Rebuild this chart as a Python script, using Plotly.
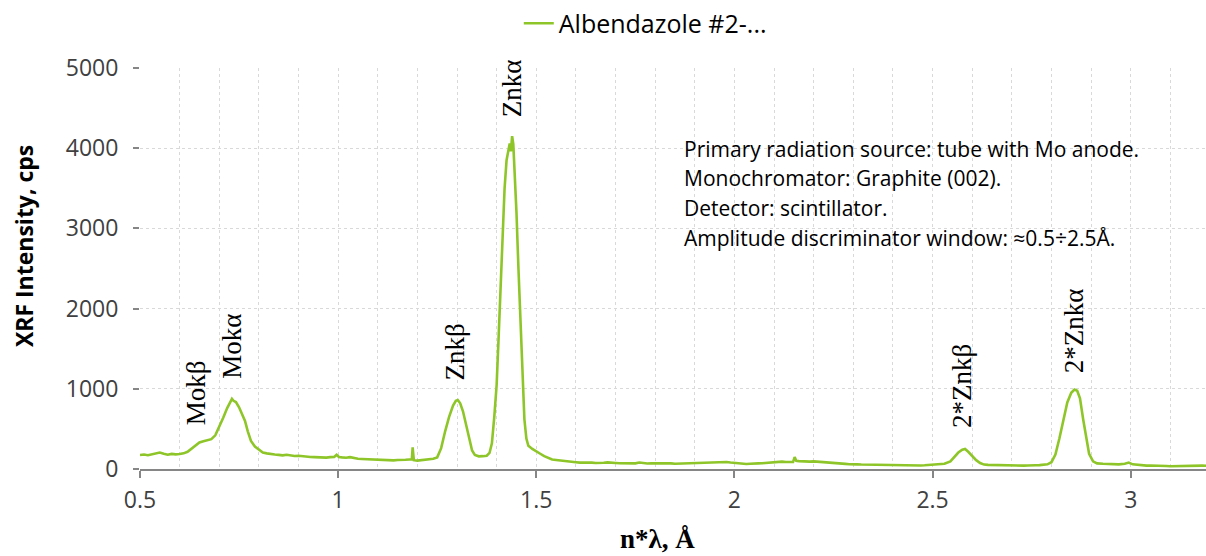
import plotly.graph_objects as go

# XRF spectrum of Albendazole sample #2: wavelength (n*lambda, Angstrom) vs intensity (cps)
wavelength = [
    0.500, 0.510, 0.520, 0.530, 0.540, 0.550, 0.560, 0.570, 0.580, 0.590,
    0.600, 0.610, 0.620, 0.630, 0.640, 0.650, 0.660, 0.670, 0.680, 0.690,
    0.700, 0.710, 0.720, 0.727, 0.732, 0.736, 0.742, 0.750, 0.758, 0.765,
    0.772, 0.780, 0.790, 0.800, 0.810, 0.820, 0.830, 0.840, 0.850, 0.860,
    0.870, 0.880, 0.890, 0.900, 0.910, 0.920, 0.930, 0.940, 0.950, 0.960,
    0.970, 0.980, 0.990, 0.996, 1.002, 1.010, 1.020, 1.030, 1.040, 1.050,
    1.060, 1.070, 1.080, 1.090, 1.100, 1.110, 1.120, 1.130, 1.140, 1.150,
    1.160, 1.170, 1.180, 1.186, 1.188, 1.191, 1.200, 1.210, 1.220, 1.230,
    1.240, 1.250, 1.260, 1.270, 1.280, 1.290, 1.297, 1.302, 1.308, 1.315,
    1.322, 1.330, 1.338, 1.345, 1.355, 1.365, 1.375, 1.382, 1.388, 1.394,
    1.400, 1.405, 1.410, 1.415, 1.420, 1.425, 1.430, 1.433, 1.436, 1.439,
    1.442, 1.446, 1.450, 1.455, 1.460, 1.465, 1.470, 1.475, 1.480, 1.490,
    1.500, 1.510, 1.520, 1.530, 1.540, 1.550, 1.560, 1.570, 1.580, 1.590,
    1.600, 1.610, 1.620, 1.630, 1.640, 1.650, 1.660, 1.670, 1.680, 1.690,
    1.700, 1.710, 1.720, 1.730, 1.740, 1.750, 1.760, 1.770, 1.780, 1.790,
    1.800, 1.810, 1.820, 1.830, 1.840, 1.850, 1.860, 1.870, 1.880, 1.890,
    1.900, 1.910, 1.920, 1.930, 1.940, 1.950, 1.960, 1.970, 1.980, 1.990,
    2.000, 2.010, 2.020, 2.030, 2.040, 2.050, 2.060, 2.070, 2.080, 2.090,
    2.100, 2.110, 2.120, 2.130, 2.140, 2.148, 2.152, 2.156, 2.163, 2.170,
    2.180, 2.190, 2.200, 2.210, 2.220, 2.230, 2.240, 2.250, 2.260, 2.270,
    2.280, 2.290, 2.300, 2.310, 2.320, 2.330, 2.340, 2.350, 2.360, 2.370,
    2.380, 2.390, 2.400, 2.410, 2.420, 2.430, 2.440, 2.450, 2.460, 2.470,
    2.480, 2.490, 2.500, 2.510, 2.520, 2.530,
    2.545, 2.555, 2.565, 2.575, 2.582, 2.590, 2.600, 2.610, 2.620, 2.630,
    2.640, 2.650, 2.660, 2.670, 2.680, 2.690, 2.700, 2.710, 2.720, 2.730,
    2.740, 2.750, 2.760, 2.770, 2.780, 2.790, 2.800, 2.810,
    2.820, 2.830, 2.840, 2.850, 2.858, 2.865, 2.872, 2.880, 2.888, 2.895,
    2.905, 2.915, 2.930, 2.940, 2.950, 2.960, 2.970, 2.985, 2.995, 3.005,
    3.020, 3.030, 3.040, 3.050, 3.060, 3.070, 3.080, 3.090, 3.100, 3.110,
    3.120, 3.130, 3.140, 3.150, 3.160, 3.170, 3.180, 3.190,
]
intensity = [
    175, 180, 172, 185, 195, 205, 190, 178, 188, 182,
    186, 195, 215, 255, 300, 330, 345, 360, 372, 420,
    520, 640, 760, 830, 875, 850, 835, 770, 690, 600,
    470, 350, 280, 240, 205, 195, 185, 180, 176, 170,
    178, 168, 162, 165, 158, 155, 150, 148, 145, 150,
    142, 148, 150, 178, 150, 145, 140, 148, 135, 128,
    125, 122, 118, 120, 112, 115, 110, 112, 108, 112,
    110, 115, 118, 120, 270, 110, 105, 110, 112, 120,
    128, 145, 260, 470, 650, 790, 850, 860, 820, 720,
    560, 380, 230, 175, 158, 160, 165, 200, 320, 650,
    1050, 1650, 2300, 2900, 3500, 3850, 3980, 4060, 3960, 4150,
    4050, 3700, 3200, 2500, 1800, 1150, 620, 380, 290, 250,
    215, 190, 160, 135, 118, 112, 105, 102, 95, 88,
    85, 80, 82, 76, 79, 74, 72, 78, 82, 74,
    75, 72, 70, 76, 72, 70, 80, 74, 68, 72,
    72, 70, 76, 72, 70, 66, 68, 73, 72, 70,
    76, 74, 80, 78, 82, 86, 85, 84, 88, 80,
    75, 68, 65, 62, 66, 64, 70, 72, 76, 84,
    88, 90, 92, 88, 86, 88, 148, 102, 98, 95,
    94, 92, 95, 90, 86, 82, 76, 72, 70, 66,
    64, 60, 62, 58, 56, 55, 52, 50, 52, 48,
    46, 44, 45, 42, 43, 40, 44, 42, 40, 44,
    46, 50, 54, 58, 55, 65,
    95, 150, 205, 240, 250, 215, 160, 110, 75, 55,
    52, 50, 47, 48, 44, 45, 42, 44, 41, 42,
    44, 42, 46, 48, 52, 58, 85, 180,
    380, 620, 830, 950, 990, 975, 880, 620, 360, 190,
    95, 70, 65, 62, 62, 60, 58, 65, 80, 58,
    50, 47, 42, 44, 40, 38, 36, 37, 34, 36,
    35, 37, 38, 36, 40, 41, 42, 40,
]

# Emission line labels (text, wavelength, intensity at label centre)
line_labels = ["Mokβ", "Mokα", "Znkβ", "Znkα", "2*Znkβ", "2*Znkα"]
line_label_x = [0.641, 0.730, 1.295, 1.437, 2.576, 2.856]
line_label_y = [956, 1526, 1452, 4753, 1030, 1725]

info_lines = [
    "Primary radiation source: tube with Mo anode.",
    "Monochromator: Graphite (002).",
    "Detector: scintillator.",
    "Amplitude discriminator window: ≈0.5÷2.5Å.",
]

SANS = "Open Sans"
SERIF = "Liberation Serif"
AXIS_GREY = "#868686"
GRID = "#d9d9d9"

fig = go.Figure()
fig.add_trace(go.Scatter(
    x=wavelength, y=intensity, mode="lines",
    name="Albendazole #2-...",
    line=dict(color="#8EC629", width=2.6),
))

annotations = []
for txt, lx, ly in zip(line_labels, line_label_x, line_label_y):
    annotations.append(dict(
        x=lx, y=ly, xref="x", yref="y", text=txt, textangle=-90,
        showarrow=False, xanchor="center", yanchor="middle",
        font=dict(family=SERIF, size=27, color="#000000"),
    ))

for i, line in enumerate(info_lines):
    annotations.append(dict(
        x=(682 - 140) / 1066, y=(469 - 147 - 30 * i) / 403,
        xref="paper", yref="paper", text=line, showarrow=False,
        xanchor="left", yanchor="middle",
        font=dict(family=SANS, size=21, color="#000000"),
    ))

annotations.append(dict(
    x=(24 - 140) / 1066, y=(469 - 245) / 403, xref="paper", yref="paper",
    text="<b>XRF Intensity, cps</b>", textangle=-90, showarrow=False,
    xanchor="center", yanchor="middle",
    font=dict(family=SANS, size=23, color="#000000"),
))
annotations.append(dict(
    x=(657 - 140) / 1066, y=(469 - 539) / 403, xref="paper", yref="paper",
    text="<b>n*λ, Å</b>", showarrow=False,
    xanchor="center", yanchor="middle",
    font=dict(family=SERIF, size=27, color="#000000"),
))

fig.update_layout(
    width=1206, height=556,
    margin=dict(l=140, r=0, t=66, b=87),
    paper_bgcolor="white", plot_bgcolor="white",
    showlegend=True,
    legend=dict(
        orientation="h", x=0.474, xanchor="center", y=1.111, yanchor="middle",
        font=dict(family=SANS, size=25, color="#000000"),
        bgcolor="rgba(0,0,0,0)",
    ),
    annotations=annotations,
)

fig.update_xaxes(
    range=[0.5, 3.19], tick0=0.5, dtick=0.5,
    showline=True, linecolor=AXIS_GREY, linewidth=2,
    ticks="outside", ticklen=7, tickwidth=2, tickcolor=AXIS_GREY,
    ticklabelstandoff=2,
    tickfont=dict(family=SANS, size=23, color="#404040"),
    showgrid=True, gridcolor=GRID, griddash="dot", gridwidth=1,
    minor=dict(dtick=0.1, showgrid=True, gridcolor=GRID, griddash="dot", gridwidth=1),
    zeroline=False,
)
fig.update_yaxes(
    range=[0, 5000], dtick=1000,
    showline=False, zeroline=False,
    ticks="outside", ticklen=6, tickwidth=2, tickcolor=AXIS_GREY,
    ticklabelstandoff=10,
    tickfont=dict(family=SANS, size=23, color="#404040"),
    showgrid=True, gridcolor=GRID, griddash="dot", gridwidth=1,
)

fig.write_html("out.html")
